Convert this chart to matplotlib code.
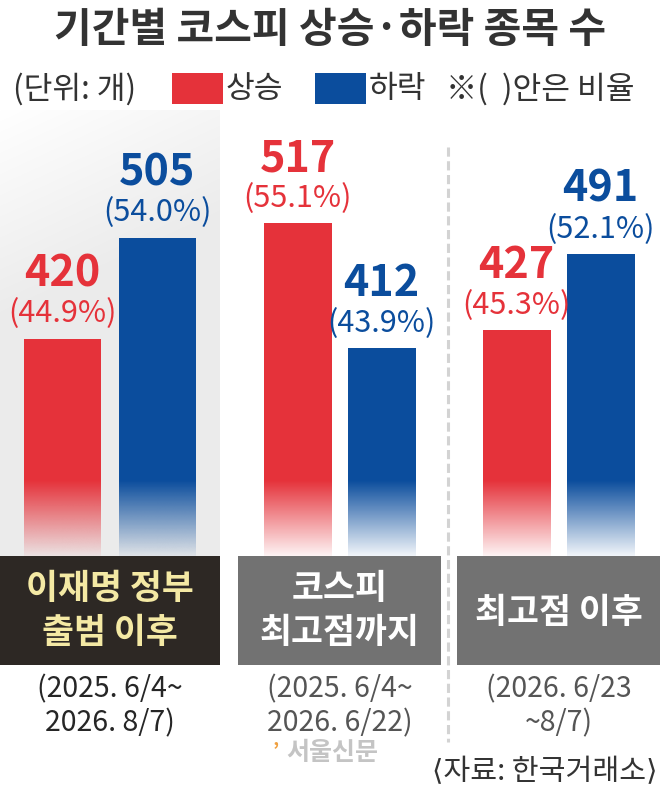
import numpy as np
import matplotlib
matplotlib.use('Agg')
import matplotlib.pyplot as plt
from matplotlib.patches import Rectangle
from matplotlib.colors import to_rgb

plt.rcParams['font.family'] = ['Noto Sans CJK KR', 'DejaVu Sans']

# data
periods = ['이재명 정부\n출범 이후', '코스피\n최고점까지', '최고점 이후']
date_ranges = ['(2025. 6/4~\n2026. 8/7)', '(2025. 6/4~\n2026. 6/22)', '(2026. 6/23\n~8/7)']
rise = [420, 517, 427]
fall = [505, 412, 491]
rise_pct = [44.9, 55.1, 45.3]
fall_pct = [54.0, 43.9, 52.1]

RED = '#e5323a'
BLUE = '#0b4d9d'
TXT = '#333333'

W, H = 660, 790
fig = plt.figure(figsize=(6.6, 7.9), dpi=100)

# layout layer in pixel units
bg = fig.add_axes([0, 0, 1, 1])
bg.axis('off')

# first panel background (soft gradient)
xx, yy = np.meshgrid(np.linspace(0, 1, 200), np.linspace(0, 1, 400))
t = np.clip(0.5 * xx + 2.2 * yy, 0, 1)
g = 1 - 0.075 * t
bg.imshow(np.dstack([g, g, g]), extent=(0, 220, 556, 110), aspect='auto', zorder=0)

# dashed divider
bg.plot([448, 448], [147, 742], color='#d3d3d3', lw=2.2, ls=(0, (3, 1.5)), zorder=1)

group_x = [110, 339.5, 558.5]
box_left = [0, 238, 457]
box_w = [220, 203, 203]
box_fc = ['#2d2824', '#727272', '#727272']
box_tc = ['#f4e9a4', 'white', 'white']
date_c = ['#262626', '#555555', '#555555']

for i, name in enumerate(periods):
    bg.add_patch(Rectangle((box_left[i], 556), box_w[i], 109, fc=box_fc[i], ec='none', zorder=1))
    lines = name.split('\n')
    ys = [589, 633] if len(lines) == 2 else [613]
    for ln, y in zip(lines, ys):
        bg.text(group_x[i], y, ln, ha='center', va='center', fontsize=25,
                weight='bold', color=box_tc[i], zorder=2)
    for ln, y in zip(date_ranges[i].split('\n'), [689, 723]):
        bg.text(group_x[i], y, ln, ha='center', va='center', fontsize=20.5,
                color=date_c[i])

# title + legend
bg.text(330, 30, '기간별 코스피 상승·하락 종목 수', ha='center', va='center',
        fontsize=29.5, weight='bold', color=TXT)
bg.text(13, 89, '(단위: 개)', va='center', fontsize=22.5, color=TXT)
bg.add_patch(Rectangle((172, 73), 51, 31, fc=RED, ec='none'))
bg.text(226, 89, '상승', va='center', fontsize=22.5, color=TXT)
bg.add_patch(Rectangle((315, 73), 51, 31, fc=BLUE, ec='none'))
bg.text(369, 89, '하락', va='center', fontsize=22.5, color=TXT)
bg.text(446, 89, '※(  )안은 비율', va='center', fontsize=22.5, color=TXT)

# source + watermark
bg.text(657, 772, '⟨자료: 한국거래소⟩', ha='right', va='center', fontsize=21, color=TXT)
bg.text(332, 753, '서울신문', ha='center', va='center', fontsize=18, weight='bold', color='#c4c4c4')
bg.text(276, 751, '’', ha='center', va='center', fontsize=14, weight='bold', color='#f0a040')

bg.set_xlim(0, W)
bg.set_ylim(H, 0)

# bar axes
Y_MIN, Y_MAX = 237.2, 612.3
FADE_TOP = 301
ax = fig.add_axes([0, (H - 556) / H, 1, (556 - 110) / H])
ax.set_facecolor('none')
ax.axis('off')

offs = [47.5, 42, 42]
widths = [77, 68, 68]
x_rise = [c - o for c, o in zip(group_x, offs)]
x_fall = [c + o for c, o in zip(group_x, offs)]
b1 = ax.bar(x_rise, rise, width=widths, color=RED, zorder=2)
b2 = ax.bar(x_fall, fall, width=widths, color=BLUE, zorder=2)

# fade the lower part of every bar into the background
for bars in (b1, b2):
    for i, p in enumerate(bars.patches):
        fade = np.zeros((120, 1, 4))
        fade[..., :3] = to_rgb('#ececec' if i == 0 else 'white')
        fade[:, 0, 3] = np.linspace(0, 0.95, 120)
        ax.imshow(fade, extent=(p.get_x(), p.get_x() + p.get_width(), Y_MIN, FADE_TOP),
                  aspect='auto', zorder=3)

for xs, vals, pcts, col in [(x_rise, rise, rise_pct, RED), (x_fall, fall, fall_pct, BLUE)]:
    for x, v, p in zip(xs, vals, pcts):
        ax.annotate(f'{v}', (x, v), xytext=(0, 47), textcoords='offset points',
                    ha='center', va='center', fontsize=31, weight='bold', color=col)
        ax.annotate(f'({p:.1f}%)', (x, v), xytext=(0, 18), textcoords='offset points',
                    ha='center', va='center', fontsize=22, color=col)

ax.set_xlim(0, W)
ax.set_ylim(Y_MIN, Y_MAX)

fig.savefig('out.png', dpi=100)
